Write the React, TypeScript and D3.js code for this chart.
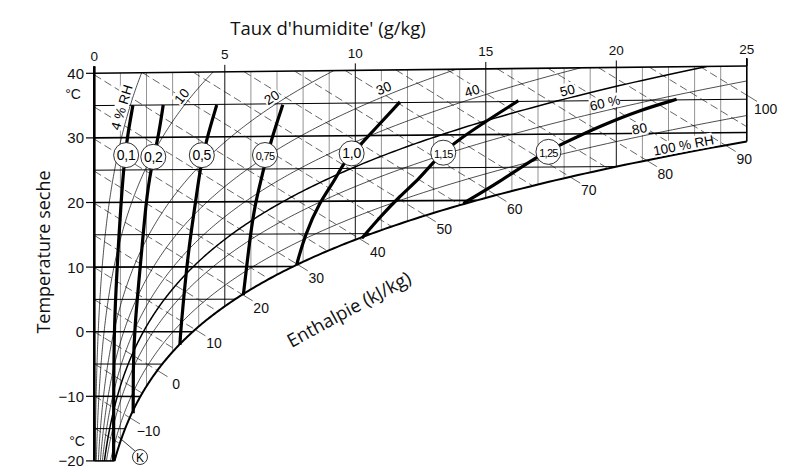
import React from 'react';
import * as d3 from 'd3';

// ---------- data ----------
const humidityTicks = [0, 5, 10, 15, 20, 25];
const temperatureTicks = [40, 30, 20, 10, 0, -10, -20];
const humidityGrid = [1, 2, 3, 4, 5, 6, 7, 8, 9, 10, 11, 12, 13, 14, 15, 16, 17, 18, 19, 20, 21, 22, 23, 24];
const isothermValues = [-15, -10, -5, 0, 5, 10, 15, 20, 25, 30, 35];
const rhValues = [4, 10, 20, 30, 40, 50, 60, 80, 100];
const rhLabelText = ['4 % RH', '10', '20', '30', '40', '50', '60 %', '80', '100 % RH'];
const enthalpyValues = [-15, -10, -5, 0, 5, 10, 15, 20, 25, 30, 35, 40, 45, 50, 55, 60, 65, 70, 75, 80, 85, 90, 95, 100];
const enthalpyLabelValues = [-10, 0, 10, 20, 30, 40, 50, 60, 70, 80, 90, 100];
const ratioLabels = ['0,1', '0,2', '0,5', '0,75', '1,0', '1,15', '1,25'];

// thick curves: [humidity g/kg, temperature °C]
const ratio01: [number, number][] = [[0.74, -20], [0.74, -10.6], [0.76, 0], [0.83, 6.4], [0.91, 12.6], [1.02, 19.6], [1.12, 25.0], [1.25, 29.8], [1.48, 35.0]];
const ratio02: [number, number][] = [[1.49, -12.6], [1.49, -6], [1.53, 0.2], [1.82, 12.6], [1.98, 19.9], [2.16, 25.0], [2.45, 29.9], [2.64, 35.0]];
const ratio05: [number, number][] = [[3.28, -2.05], [3.31, 0.26], [3.6, 12.6], [3.88, 19.9], [4.05, 25.0], [4.31, 29.8], [4.69, 34.9]];
const ratio075: [number, number][] = [[5.71, 5.65], [5.84, 10.1], [5.98, 14.8], [6.16, 19.6], [6.4, 23.5], [6.48, 24.9], [6.8, 29.75], [7.22, 34.83]];
const ratio10: [number, number][] = [[7.75, 10.24], [8.07, 14.83], [8.61, 19.73], [9.23, 23.25], [9.53, 25.8], [10.25, 28.85], [11.71, 35.1]];
const ratio115: [number, number][] = [[10.25, 14.29], [10.95, 17.54], [11.71, 20.73], [12.48, 23.46], [12.99, 25.93], [13.88, 29.22], [16.25, 35.11]];
const ratio125: [number, number][] = [[14.14, 19.56], [15.54, 22.82], [16.95, 26.58], [17.97, 28.58], [19.38, 31.16], [20.91, 33.52], [22.31, 35.09]];
const ratioCurves = [ratio01, ratio02, ratio05, ratio075, ratio10, ratio115, ratio125];

// ---------- layout (in chart units) ----------
const RH_LABEL_AT = [1.33, 3.58, 6.96, 11.2, 14.56, 18.2, 19.63, 20.95, 22.63];
const RATIO_LABEL_AT: [number, number][] = [[1.22, 27.3], [2.26, 27.0], [4.12, 27.2], [6.54, 27.15], [9.86, 27.3], [13.37, 27.3], [17.4, 27.3]];

const NUM_FONT = "'Liberation Sans', Arial, sans-serif";
const TITLE_FONT = "'Open Sans', 'Noto Sans', sans-serif";

// ---------- psychrometrics ----------
const P = 101325;
const psat = (t: number) => 611.2 * Math.exp((17.62 * t) / (243.12 + t));
const xAt = (t: number, phi: number) => { const p = phi * psat(t); return (622 * p) / (P - p); };
const tFromPs = (ps: number) => { const l = Math.log(ps / 611.2); return (243.12 * l) / (17.62 - l); };
const tDew = (x: number) => tFromPs((x * P) / (622 + x));
const tOnRh = (x: number, phi: number) => tFromPs((x * P) / (622 + x) / phi);
const tIsen = (h: number, x: number) => (h - 2.501 * x) / (1.006 + 0.00186 * x);

export default function App() {
  const xScale = d3.scaleLinear().domain([0, 25]).range([94.3, 746.8]);
  const tScale = d3.scaleLinear().domain([-20, 40]).range([460.9, 73.3]);
  const SKEW = 0.0073;
  const X = (x: number) => xScale(x);
  const Y = (x: number, t: number) => tScale(t) - SKEW * t * x;
  const line = d3.line<[number, number]>().x(d => X(d[0])).y(d => Y(d[0], d[1]));
  const smooth = d3.line<[number, number]>().x(d => X(d[0])).y(d => Y(d[0], d[1])).curve(d3.curveBasis);

  const tRight = tDew(25);
  const satPts: [number, number][] = [];
  for (let t = -20; t < tRight; t += 0.25) satPts.push([xAt(t, 1), t]);
  satPts.push([25, tRight]);

  const regionPts: [number, number][] = [[0, -20], [0, 40], [25, 40], ...satPts.slice().reverse()];

  // RH curves
  const rhPaths = rhValues.filter(v => v < 100).map(v => {
    const pts: [number, number][] = [];
    for (let t = -20; t <= 40.001; t += 0.25) {
      const x = xAt(t, v / 100);
      pts.push([x, t]);
      if (x > 26) break;
    }
    return { v, d: line(pts) };
  });

  // isenthalps
  const isen = enthalpyValues.map(h => {
    const x0 = h <= 40.24 ? 0 : (h - 40.24) / (2.501 + 0.0744);
    const f = (x: number) => tIsen(h, x) - tDew(x);
    let x1 = 25;
    if (f(25) <= 0) {
      let lo = Math.max(x0, 1e-6), hi = 25;
      for (let i = 0; i < 60; i++) {
        const m = (lo + hi) / 2;
        if (f(m) > 0) lo = m; else hi = m;
      }
      x1 = lo;
    }
    const pts: [number, number][] = [];
    for (let i = 0; i <= 20; i++) {
      const x = x0 + ((x1 - x0) * i) / 20;
      pts.push([x, tIsen(h, x)]);
    }
    const a = [X(pts[19][0]), Y(pts[19][0], pts[19][1])];
    const b = [X(pts[20][0]), Y(pts[20][0], pts[20][1])];
    const len = Math.hypot(b[0] - a[0], b[1] - a[1]);
    const dir = [(b[0] - a[0]) / len, (b[1] - a[1]) / len];
    return { h, d: line(pts), end: b, dir };
  });

  // RH labels
  const rhLabels = rhValues.map((v, i) => {
    const phi = v / 100;
    const x = RH_LABEL_AT[i];
    const t = tOnRh(x, phi);
    const ta = t - 0.4, tb = t + 0.4;
    const pa = [X(xAt(ta, phi)), Y(xAt(ta, phi), ta)];
    const pb = [X(xAt(tb, phi)), Y(xAt(tb, phi), tb)];
    const dx = pb[0] - pa[0], dy = pb[1] - pa[1];
    const L = Math.hypot(dx, dy);
    const nx = dy / L, ny = -dx / L;
    const cx = X(x) + nx * 8, cy = Y(x, t) + ny * 8;
    const angle = (Math.atan2(dy, dx) * 180) / Math.PI;
    return { text: rhLabelText[i], cx, cy, angle };
  });

  const fmt = (v: number) => (v < 0 ? '\u2212' + Math.abs(v) : String(v));

  return (
    <svg width={792} height={476} style={{ display: 'block', position: 'absolute', left: 0, top: 0, background: '#fff' }}>
      <defs>
        <clipPath id="region">
          <path d={line(regionPts) + 'Z'} />
        </clipPath>
      </defs>
      <rect x={0} y={0} width={792} height={476} fill="#fff" />

      <g clipPath="url(#region)">
        {/* vertical grid */}
        {humidityGrid.map(x => {
          const tb = Math.max(-20, tDew(x));
          return (
            <line key={'v' + x} x1={X(x)} x2={X(x)} y1={Y(x, 40)} y2={Y(x, tb)}
              stroke={x % 5 === 0 ? '#111' : '#666'} strokeWidth={x % 5 === 0 ? 1 : 0.7} />
          );
        })}
        {/* isotherms */}
        {isothermValues.map(t => {
          const xe = Math.min(25, xAt(t, 1));
          return (
            <line key={'h' + t} x1={X(0)} x2={X(xe)} y1={Y(0, t)} y2={Y(xe, t)}
              stroke="#000" strokeWidth={t % 10 === 0 ? 1.6 : 1} />
          );
        })}
        {/* isenthalps */}
        {isen.map(s => (
          <path key={'e' + s.h} d={s.d || ''} fill="none" stroke="#222" strokeWidth={0.7} strokeDasharray="8,4" />
        ))}
        {/* RH curves */}
        {rhPaths.map(r => (
          <path key={'rh' + r.v} d={r.d || ''} fill="none" stroke="#000" strokeWidth={r.v === 50 ? 1.5 : 0.7} />
        ))}
      </g>

      {/* enthalpy extensions and labels */}
      {isen.filter(s => enthalpyLabelValues.includes(s.h)).map(s => (
        <g key={'el' + s.h}>
          <line x1={s.end[0]} y1={s.end[1]} x2={s.end[0] + s.dir[0] * 12} y2={s.end[1] + s.dir[1] * 12} stroke="#222" strokeWidth={0.7} />
          <text x={s.end[0] + s.dir[0] * 22} y={s.end[1] + s.dir[1] * 22 + 7} fontFamily={NUM_FONT} fontSize={14} textAnchor="middle" fill="#111">
            {fmt(s.h)}
          </text>
        </g>
      ))}

      {/* saturation curve */}
      <path d={line(satPts) || ''} fill="none" stroke="#000" strokeWidth={2} />

      {/* borders */}
      <line x1={X(0)} x2={X(0)} y1={Y(0, -20)} y2={Y(0, 40) - 7} stroke="#000" strokeWidth={2.6} />
      <line x1={X(0)} x2={X(25)} y1={Y(0, 40)} y2={Y(25, 40)} stroke="#000" strokeWidth={1.6} />
      <line x1={X(25)} x2={X(25)} y1={Y(25, 40) - 8} y2={Y(25, tRight)} stroke="#000" strokeWidth={1.6} />
      <line x1={X(0)} x2={X(xAt(-20, 1))} y1={Y(0, -20)} y2={Y(0, -20)} stroke="#000" strokeWidth={1.6} />

      {/* thick ratio curves */}
      {ratioCurves.map((c, i) => (
        <path key={'rc' + i} d={smooth(c) || ''} fill="none" stroke="#000" strokeWidth={3.2} strokeLinecap="butt" />
      ))}
      {RATIO_LABEL_AT.map((p, i) => (
        <g key={'rl' + i}>
          <circle cx={X(p[0])} cy={Y(p[0], p[1])} r={12.5} fill="#fff" stroke="#000" strokeWidth={0.8} />
          <text x={X(p[0])} y={Y(p[0], p[1]) + 5} textAnchor="middle" fontFamily={NUM_FONT}
            fontSize={ratioLabels[i].length > 3 ? 11 : 14} letterSpacing={ratioLabels[i].length > 3 ? -0.7 : -0.3} fill="#000">
            {ratioLabels[i]}
          </text>
        </g>
      ))}

      {/* RH labels */}
      {rhLabels.map((l, i) => {
        const w = l.text.length * 7.2 + 2;
        return (
          <g key={'rhl' + i} transform={`translate(${l.cx},${l.cy}) rotate(${l.angle})`}>
            <rect x={-w / 2} y={-7} width={w} height={14} fill="#fff" />
            <text x={0} y={5} textAnchor="middle" fontFamily={NUM_FONT} fontSize={13.5} fill="#000">{l.text}</text>
          </g>
        );
      })}

      {/* K marker */}
      <line x1={135} y1={451} x2={118} y2={436.5} stroke="#000" strokeWidth={0.8} />
      <circle cx={140} cy={457} r={7.5} fill="#fff" stroke="#000" strokeWidth={0.8} />
      <text x={140} y={461.5} textAnchor="middle" fontFamily={NUM_FONT} fontSize={12} fill="#000">K</text>

      {/* top axis */}
      {humidityTicks.map(x => (
        <g key={'tx' + x}>
          <line x1={X(x)} x2={X(x)} y1={Y(x, 40)} y2={Y(x, 40) - 7} stroke="#000" strokeWidth={x === 0 || x === 25 ? 1.6 : 1} />
          <text x={X(x)} y={Y(x, 40) - 12.5} textAnchor="middle" fontFamily={NUM_FONT} fontSize={13.5} fill="#111">{x}</text>
        </g>
      ))}

      {/* left axis */}
      {temperatureTicks.map(t => (
        <g key={'ty' + t}>
          <line x1={86} x2={X(0)} y1={Y(0, t)} y2={Y(0, t)} stroke="#000" strokeWidth={1.2} />
          <text x={84} y={Y(0, t) + 5.5} textAnchor="end" fontFamily={NUM_FONT} fontSize={15} fill="#111">{fmt(t)}</text>
        </g>
      ))}
      <text x={73} y={99} textAnchor="middle" fontFamily={NUM_FONT} fontSize={14} fill="#111">°C</text>
      <text x={77} y={446} textAnchor="middle" fontFamily={NUM_FONT} fontSize={14} fill="#111">°C</text>

      {/* titles */}
      <text x={328} y={35} textAnchor="middle" fontFamily={TITLE_FONT} fontSize={18.5} fill="#111">Taux d'humidite' (g/kg)</text>
      <text transform="translate(50,252) rotate(-90)" textAnchor="middle" fontFamily={TITLE_FONT} fontSize={18} fill="#111">Temperature seche</text>
      <text transform="translate(352,315) rotate(-28.5)" textAnchor="middle" fontFamily={TITLE_FONT} fontSize={18.5} fill="#111">Enthalpie (kJ/kg)</text>
    </svg>
  );
}
